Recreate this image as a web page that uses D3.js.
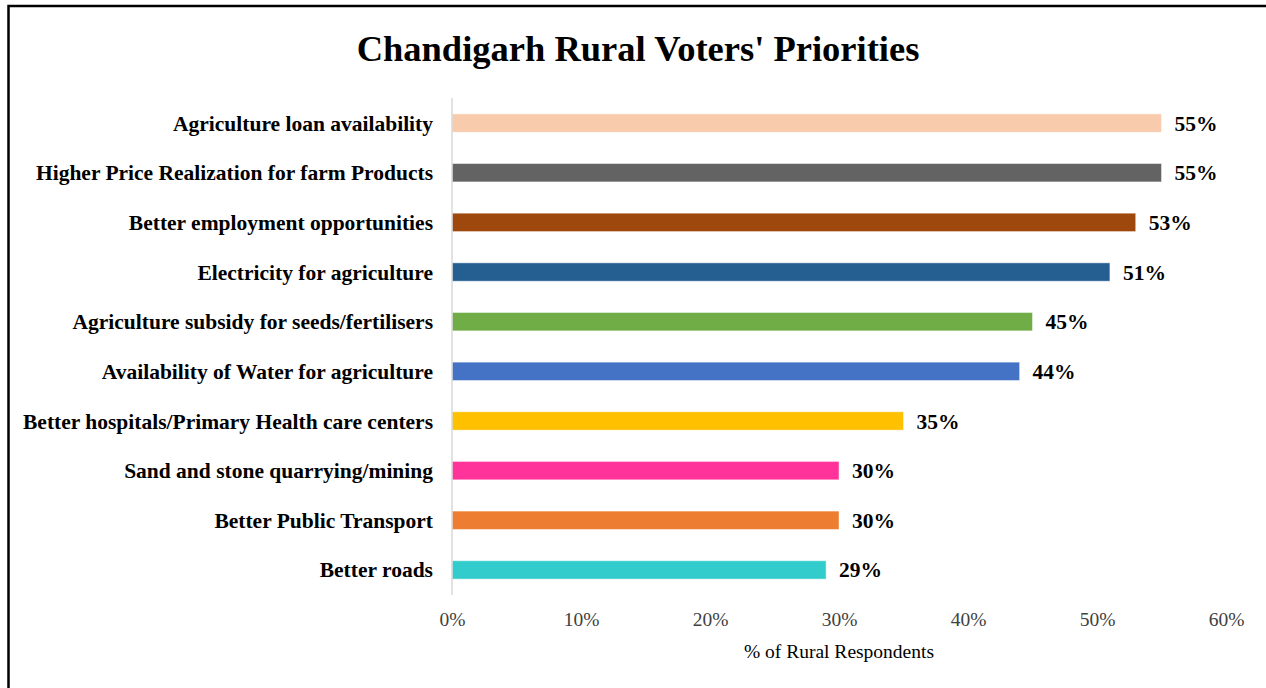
<!DOCTYPE html>
<html>
<head>
<meta charset="utf-8">
<script src="https://cdn.jsdelivr.net/npm/d3@7"></script>
<style>
  html, body { margin: 0; padding: 0; background: #fff; }
  svg { display: block; }
</style>
</head>
<body>
<svg id="chart" width="1266" height="688"></svg>
<script>
// Survey priorities, top of the chart first
const categories = [
  "Agriculture loan availability",
  "Higher Price Realization for farm Products",
  "Better employment opportunities",
  "Electricity for agriculture",
  "Agriculture subsidy for seeds/fertilisers",
  "Availability of Water for agriculture",
  "Better hospitals/Primary Health care centers",
  "Sand and stone quarrying/mining",
  "Better Public Transport",
  "Better roads"
];
const shares = [55, 55, 53, 51, 45, 44, 35, 30, 30, 29];
const barColors = [
  "#F8CBAD", "#636363", "#9E480E", "#255E91", "#70AD47",
  "#4472C4", "#FFC000", "#FF3399", "#ED7D31", "#33CCCC"
];
const tickValues = [0, 10, 20, 30, 40, 50, 60];
const titleText = "Chandigarh Rural Voters' Priorities";
const axisTitle = "% of Rural Respondents";

const svg = d3.select("#chart");
const serif = "'Liberation Serif', 'Times New Roman', serif";

// Outer frame
svg.append("rect")
  .attr("x", 8.5).attr("y", 6)
  .attr("width", 1266).attr("height", 700)
  .attr("fill", "none").attr("stroke", "#000").attr("stroke-width", 2.5);

const plot = { left: 452, right: 1226, top: 98, bottom: 595 };

const x = d3.scaleLinear().domain([0, 60]).range([plot.left, plot.right]);
const y = d3.scaleBand().domain(categories)
  .range([plot.top, plot.bottom]).paddingInner(0.63).paddingOuter(0.32);

// Title
svg.append("text")
  .attr("x", 638).attr("y", 61)
  .attr("text-anchor", "middle")
  .attr("font-family", serif).attr("font-weight", "bold")
  .attr("font-size", 36.5).attr("fill", "#000")
  .text(titleText);

// Bars
svg.append("g").selectAll("rect")
  .data(categories)
  .join("rect")
  .attr("x", x(0))
  .attr("y", d => y(d))
  .attr("width", (d, i) => x(shares[i]) - x(0))
  .attr("height", y.bandwidth())
  .attr("fill", (d, i) => barColors[i])
  .attr("stroke", "#fff").attr("stroke-opacity", 0.45).attr("stroke-width", 1);

// Vertical category axis line
svg.append("line")
  .attr("x1", x(0)).attr("x2", x(0))
  .attr("y1", plot.top).attr("y2", plot.bottom)
  .attr("stroke", "#d9d9d9").attr("stroke-width", 1.5);

// Category labels
svg.append("g").selectAll("text")
  .data(categories)
  .join("text")
  .attr("x", 433)
  .attr("y", d => y(d) + y.bandwidth() / 2)
  .attr("dy", "0.35em")
  .attr("text-anchor", "end")
  .attr("font-family", serif).attr("font-weight", "bold")
  .attr("font-size", 21.5).attr("fill", "#000")
  .text(d => d);

// Value labels
svg.append("g").selectAll("text")
  .data(categories)
  .join("text")
  .attr("x", (d, i) => x(shares[i]) + 13)
  .attr("y", d => y(d) + y.bandwidth() / 2)
  .attr("dy", "0.35em")
  .attr("font-family", serif).attr("font-weight", "bold")
  .attr("font-size", 21.5).attr("fill", "#000")
  .text((d, i) => shares[i] + "%");

// X axis tick labels
const xAxis = d3.axisBottom(x).tickValues(tickValues)
  .tickFormat(d => d + "%").tickSize(0).tickPadding(0);
const gx = svg.append("g")
  .attr("transform", `translate(0, ${plot.bottom + 17})`)
  .call(xAxis);
gx.select(".domain").remove();
gx.selectAll("text")
  .attr("font-family", serif).attr("font-size", 19.5)
  .attr("fill", "#404040");

// X axis title
svg.append("text")
  .attr("x", 839).attr("y", 658)
  .attr("text-anchor", "middle")
  .attr("font-family", serif).attr("font-size", 19.5)
  .attr("fill", "#000")
  .text(axisTitle);
</script>
</body>
</html>
